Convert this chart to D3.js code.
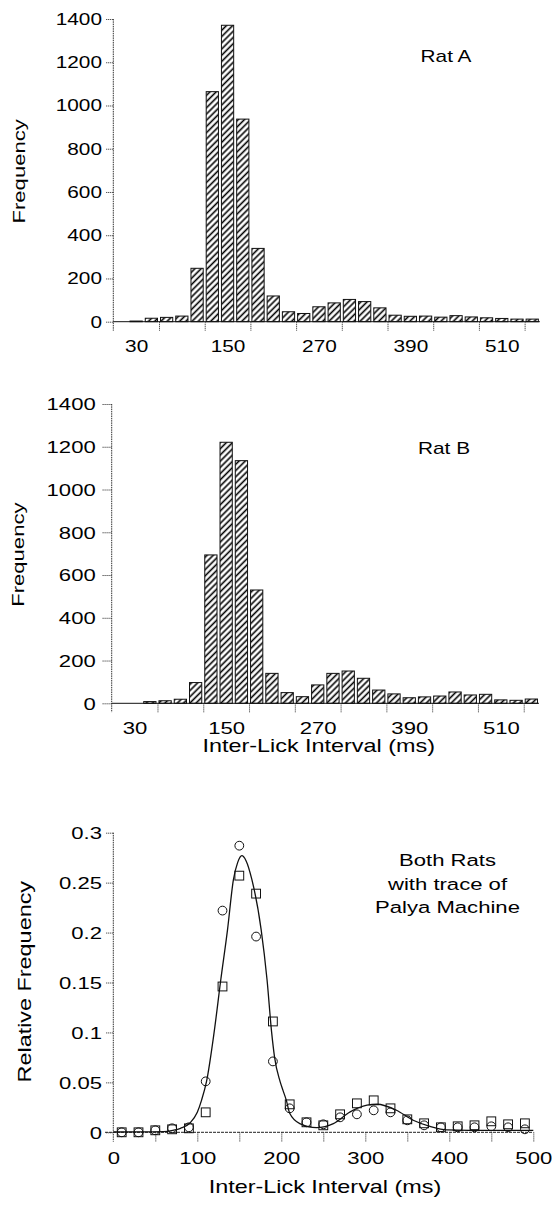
<!DOCTYPE html>
<html>
<head>
<meta charset="utf-8">
<script src="https://cdnjs.cloudflare.com/ajax/libs/d3/7.8.5/d3.min.js"></script>
<style>
  body { margin: 0; background: #fff; }
  svg text { font-family: "Liberation Sans", Arial, sans-serif; fill: #000; }
</style>
</head>
<body>
<script>
// histogram bins (ms, bin centres) and counts
var bins = [10, 30, 50, 70, 90, 110, 130, 150, 170, 190, 210, 230, 250, 270,
            290, 310, 330, 350, 370, 390, 410, 430, 450, 470, 490, 510, 530, 550];
var ratA = [0, 3, 16, 20, 26, 247, 1064, 1371, 937, 339, 119, 46, 38, 69,
            87, 103, 93, 64, 30, 25, 26, 21, 28, 22, 18, 15, 12, 12];
var ratB = [0, 0, 8, 12, 19, 97, 694, 1221, 1135, 530, 140, 50, 31, 86,
            140, 151, 117, 62, 44, 26, 30, 34, 53, 39, 42, 16, 14, 20];
var freqTicks = [0, 200, 400, 600, 800, 1000, 1200, 1400];
var binLabels = [30, 150, 270, 390, 510];
var binTicks = [60, 120, 180, 240, 300, 360, 420, 480, 540];

// bottom panel: relative frequencies (circles = rat A, squares = rat B)
var relX = [10, 30, 50, 70, 90, 110, 130, 150, 170, 190, 210, 230, 250,
            270, 290, 310, 330, 350, 370, 390, 410, 430, 450, 470, 490];
var relA = [0, 0, 0.002, 0.004, 0.005, 0.051, 0.222, 0.287, 0.196, 0.071, 0.024, 0.010, 0.008,
            0.015, 0.018, 0.022, 0.020, 0.012, 0.007, 0.005, 0.005, 0.005, 0.006, 0.005, 0.003];
var relB = [0, 0, 0.002, 0.003, 0.004, 0.020, 0.146, 0.257, 0.239, 0.111, 0.028, 0.010, 0.007,
            0.018, 0.029, 0.032, 0.024, 0.013, 0.009, 0.005, 0.006, 0.007, 0.011, 0.008, 0.009];
// trace of the Palya machine
var traceX = [0, 40, 60, 71, 80, 91, 100, 105, 111, 120, 128, 136, 143, 148, 153, 158, 165,
              176, 183, 188.5, 192, 198.5, 202, 206, 210, 222, 242, 262, 282, 302, 314,
              337, 357, 377, 397, 450, 500];
var traceY = [0.0003, 0.0004, 0.0006, 0.002, 0.004, 0.009, 0.02, 0.032, 0.051, 0.1, 0.153,
              0.203, 0.253, 0.27, 0.277, 0.272, 0.253, 0.203, 0.153, 0.1, 0.075, 0.051, 0.042,
              0.032, 0.019, 0.0087, 0.0047, 0.0087, 0.0204, 0.0271, 0.0281, 0.0221, 0.0121,
              0.006, 0.0025, 0.002, 0.002];
var relYTicks = [0, 0.05, 0.1, 0.15, 0.2, 0.25, 0.3];
var relYLabels = ["0", "0.05", "0.1", "0.15", "0.2", "0.25", "0.3"];
var relXTicks = [50, 100, 150, 200, 250, 300, 350, 400, 450, 500];
var relXLabels = [0, 100, 200, 300, 400, 500];

var SX = 1.3; // the printed type is wide, stretch it along the line

var svg = d3.select("body").append("svg")
  .attr("width", 552).attr("height", 1205);

var pat = svg.append("defs").append("pattern")
  .attr("id", "hatch")
  .attr("patternUnits", "userSpaceOnUse")
  .attr("width", 4.4).attr("height", 4.4)
  .attr("patternTransform", "rotate(45)");
pat.append("rect").attr("width", 4.4).attr("height", 4.4).attr("fill", "#fff");
pat.append("line").attr("x1", 2.2).attr("y1", 0).attr("x2", 2.2).attr("y2", 4.4)
  .attr("stroke", "#000").attr("stroke-width", 1.6);

function label(x, y, txt, size, anchor, rot) {
  svg.append("text")
    .attr("transform", "translate(" + x + "," + y + ") rotate(" + (rot || 0) + ") scale(" + SX + ",1)")
    .attr("text-anchor", anchor)
    .attr("font-size", size)
    .text(txt);
}

function styleTicks(g) {
  g.select(".domain").remove();
  g.selectAll(".tick line").attr("stroke", "#444").attr("stroke-dasharray", "1.2,0.8");
}

function leftLabels(g, size, pad) {
  g.selectAll(".tick text")
    .attr("font-size", size)
    .attr("x", -pad / SX)
    .attr("dy", "0.34em")
    .attr("transform", "scale(" + SX + ",1)");
}

function histogram(p) {
  var x = d3.scaleLinear().domain([0, 560]).range([p.x0, p.x0 + 560 * p.k]);
  var y = d3.scaleLinear().domain([0, 1400]).range([p.y0, p.y1]);

  svg.append("g").selectAll("rect")
    .data(bins.map(function(b, i) { return { b: b, v: p.values[i] }; })
      .filter(function(d) { return d.v > 0; }))
    .enter().append("rect")
    .attr("x", function(d) { return x(d.b - 10) + 1.5; })
    .attr("width", function(d) { return x(d.b + 10) - x(d.b - 10) - 3; })
    .attr("y", function(d) { return y(d.v); })
    .attr("height", function(d) { return y(0) - y(d.v); })
    .attr("fill", "url(#hatch)")
    .attr("stroke", "#111").attr("stroke-width", 1);

  // y axis
  var ya = svg.append("g").attr("transform", "translate(" + p.x0 + ",0)")
    .call(d3.axisLeft(y).tickValues(freqTicks).tickSize(p.ytick).tickFormat(d3.format("d")));
  styleTicks(ya);
  leftLabels(ya, p.ysize, p.ypad);
  svg.append("line").attr("x1", p.x0).attr("x2", p.x0).attr("y1", p.y1).attr("y2", p.y0 + 9)
    .attr("stroke", "#333").attr("stroke-dasharray", "1.5,0.8");

  // x axis: ticks on bin edges, labels on selected bin centres
  var xa = svg.append("g").attr("transform", "translate(0," + p.y0 + ")")
    .call(d3.axisBottom(x).tickValues(binTicks).tickSize(9).tickFormat(""));
  styleTicks(xa);
  var xl = svg.append("g").attr("transform", "translate(0," + p.y0 + ")")
    .call(d3.axisBottom(x).tickValues(binLabels).tickSize(0));
  xl.select(".domain").remove();
  xl.selectAll(".tick text")
    .attr("font-size", p.xsize)
    .attr("y", p.xbase).attr("dy", 0)
    .attr("transform", "scale(" + SX + ",1)");
  svg.append("line").attr("x1", p.x0).attr("x2", x(560)).attr("y1", p.y0).attr("y2", p.y0)
    .attr("stroke", "#111").attr("stroke-width", 1);

  label(p.titleX, p.titleY, p.title, 16, "middle");
  label(p.ylabX, (p.y0 + p.y1) / 2 + 1, "Frequency", 17, "middle", -90);
}

histogram({ values: ratA, x0: 113.3, k: 0.7617, y0: 321.7, y1: 19,
  ytick: 7.7, ysize: 16, ypad: 11.3, xsize: 16, xbase: 30,
  title: "Rat A", titleX: 446, titleY: 61.7, ylabX: 25 });

histogram({ values: ratB, x0: 111.7, k: 0.763, y0: 703.3, y1: 404,
  ytick: 10, ysize: 17, ypad: 16, xsize: 17, xbase: 30.7,
  title: "Rat B", titleX: 444, titleY: 454, ylabX: 24 });
label(318.7, 752, "Inter-Lick Interval (ms)", 18, "middle");

// bottom panel
var xc = d3.scaleLinear().domain([0, 500]).range([113.3, 533.3]);
var yc = d3.scaleLinear().domain([0, 0.3]).range([1132.3, 832.7]);

var yca = svg.append("g").attr("transform", "translate(113.3,0)")
  .call(d3.axisLeft(yc).tickValues(relYTicks).tickSize(7.7)
    .tickFormat(function(d, i) { return relYLabels[i]; }));
styleTicks(yca);
leftLabels(yca, 17, 11.3);
svg.append("line").attr("x1", 113.3).attr("x2", 113.3).attr("y1", 832.7).attr("y2", 1141.7)
  .attr("stroke", "#333").attr("stroke-dasharray", "1.5,0.8");

var xca = svg.append("g").attr("transform", "translate(0,1132.3)")
  .call(d3.axisBottom(xc).tickValues(relXTicks).tickSize(9.4).tickFormat(""));
styleTicks(xca);
var xcl = svg.append("g").attr("transform", "translate(0,1132.3)")
  .call(d3.axisBottom(xc).tickValues(relXLabels).tickSize(0));
xcl.select(".domain").remove();
xcl.selectAll(".tick text")
  .attr("font-size", 17).attr("y", 31.7).attr("dy", 0)
  .attr("transform", "scale(" + SX + ",1)");
svg.append("line").attr("x1", 105).attr("x2", xc(500)).attr("y1", 1132.3).attr("y2", 1132.3)
  .attr("stroke", "#222").attr("stroke-dasharray", "3,1");

var line = d3.line()
  .x(function(d) { return xc(d[0]); })
  .y(function(d) { return yc(d[1]); })
  .curve(d3.curveMonotoneX);
svg.append("path")
  .datum(traceX.map(function(v, i) { return [v, traceY[i]]; }))
  .attr("d", line)
  .attr("fill", "none").attr("stroke", "#111").attr("stroke-width", 1.3);

svg.append("g").selectAll("circle")
  .data(relX.map(function(v, i) { return [v, relA[i]]; }))
  .enter().append("circle")
  .attr("cx", function(d) { return xc(d[0]); })
  .attr("cy", function(d) { return yc(d[1]); })
  .attr("r", 4.4)
  .attr("fill", "none").attr("stroke", "#111").attr("stroke-width", 1);

svg.append("g").selectAll("rect")
  .data(relX.map(function(v, i) { return [v, relB[i]]; }))
  .enter().append("rect")
  .attr("x", function(d) { return xc(d[0]) - 4.4; })
  .attr("y", function(d) { return yc(d[1]) - 4.4; })
  .attr("width", 8.8).attr("height", 8.8)
  .attr("fill", "none").attr("stroke", "#111").attr("stroke-width", 1);

label(447.5, 866, "Both Rats", 17, "middle");
label(447.5, 890, "with trace of", 17, "middle");
label(447.5, 913.3, "Palya Machine", 17, "middle");
label(325, 1193, "Inter-Lick Interval (ms)", 18, "middle");
label(31, 981.7, "Relative Frequency", 18, "middle", -90);
</script>
</body>
</html>
